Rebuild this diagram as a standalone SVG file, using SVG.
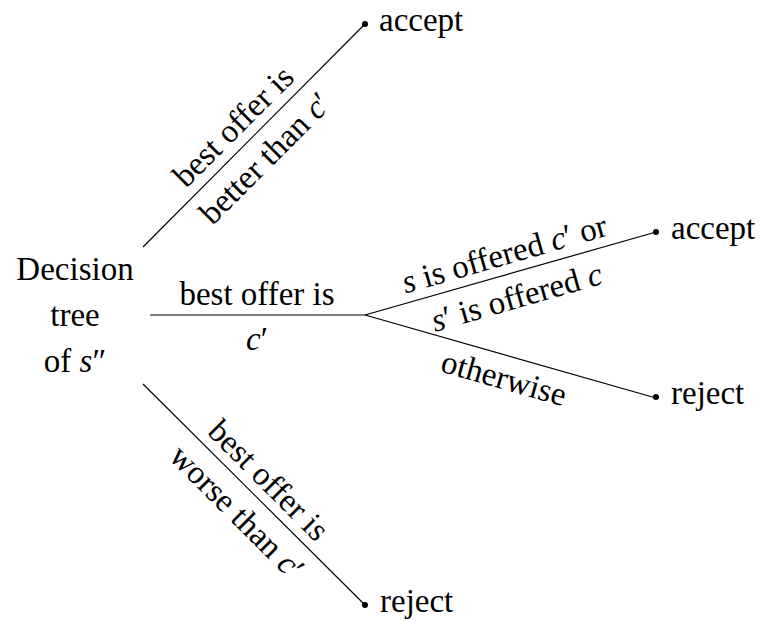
<svg xmlns="http://www.w3.org/2000/svg" width="767" height="622" viewBox="0 0 767 622">
<rect width="767" height="622" fill="#fff"/>
<g id="connectors" stroke="#000" stroke-width="1.2">
<line x1="143" y1="247" x2="365" y2="24"/>
<line x1="150" y1="315" x2="365" y2="315"/>
<line x1="365" y1="315" x2="656" y2="232"/>
<line x1="365" y1="315" x2="656" y2="398"/>
<line x1="143" y1="384" x2="365" y2="605"/>
</g>
<g id="root">
<text x="75" y="280" font-size="33" font-family="Liberation Serif" text-anchor="middle">Decision</text>
<text x="75" y="326" font-size="33" font-family="Liberation Serif" text-anchor="middle">tree</text>
<text x="75" y="372" font-size="33" font-family="Liberation Serif" text-anchor="middle">of <tspan font-style="italic">s</tspan>″</text>
</g>
<g id="accept1">
<circle cx="365" cy="24" r="3"/>
<text x="379" y="31" font-size="33" font-family="Liberation Serif">accept</text>
</g>
<g id="accept2">
<circle cx="656" cy="232" r="3"/>
<text x="671" y="239" font-size="33" font-family="Liberation Serif">accept</text>
</g>
<g id="reject1">
<circle cx="656" cy="397" r="3"/>
<text x="671" y="404" font-size="33" font-family="Liberation Serif">reject</text>
</g>
<g id="reject2">
<circle cx="365" cy="605" r="3"/>
<text x="380" y="612" font-size="33" font-family="Liberation Serif">reject</text>
</g>
<g id="labels">
<text transform="translate(248,141) rotate(-45)" x="0" y="-10" font-size="33" font-family="Liberation Serif" text-anchor="middle">best offer is</text>
<text transform="translate(248,141) rotate(-45)" x="0" y="35" font-size="33" font-family="Liberation Serif" text-anchor="middle">better than <tspan font-style="italic">c</tspan>′</text>
<text x="257" y="305" font-size="33" font-family="Liberation Serif" text-anchor="middle">best offer is</text>
<text x="257" y="350" font-size="33" font-family="Liberation Serif" text-anchor="middle"><tspan font-style="italic">c</tspan>′</text>
<text transform="translate(510,274) rotate(-16)" x="0" y="-10" font-size="33" font-family="Liberation Serif" text-anchor="middle"><tspan font-style="italic">s</tspan> is offered <tspan font-style="italic">c</tspan>′ or</text>
<text transform="translate(510,274) rotate(-16)" x="0" y="35" font-size="33" font-family="Liberation Serif" text-anchor="middle"><tspan font-style="italic">s</tspan>′ is offered <tspan font-style="italic">c</tspan></text>
<text transform="translate(510,357) rotate(15.8)" x="0" y="33" font-size="33" font-family="Liberation Serif" text-anchor="middle">otherwise</text>
<text transform="translate(254,495) rotate(45)" x="0" y="-10" font-size="33" font-family="Liberation Serif" text-anchor="middle">best offer is</text>
<text transform="translate(254,495) rotate(45)" x="0" y="35" font-size="33" font-family="Liberation Serif" text-anchor="middle">worse than <tspan font-style="italic">c</tspan>′</text>
</g>
</svg>
